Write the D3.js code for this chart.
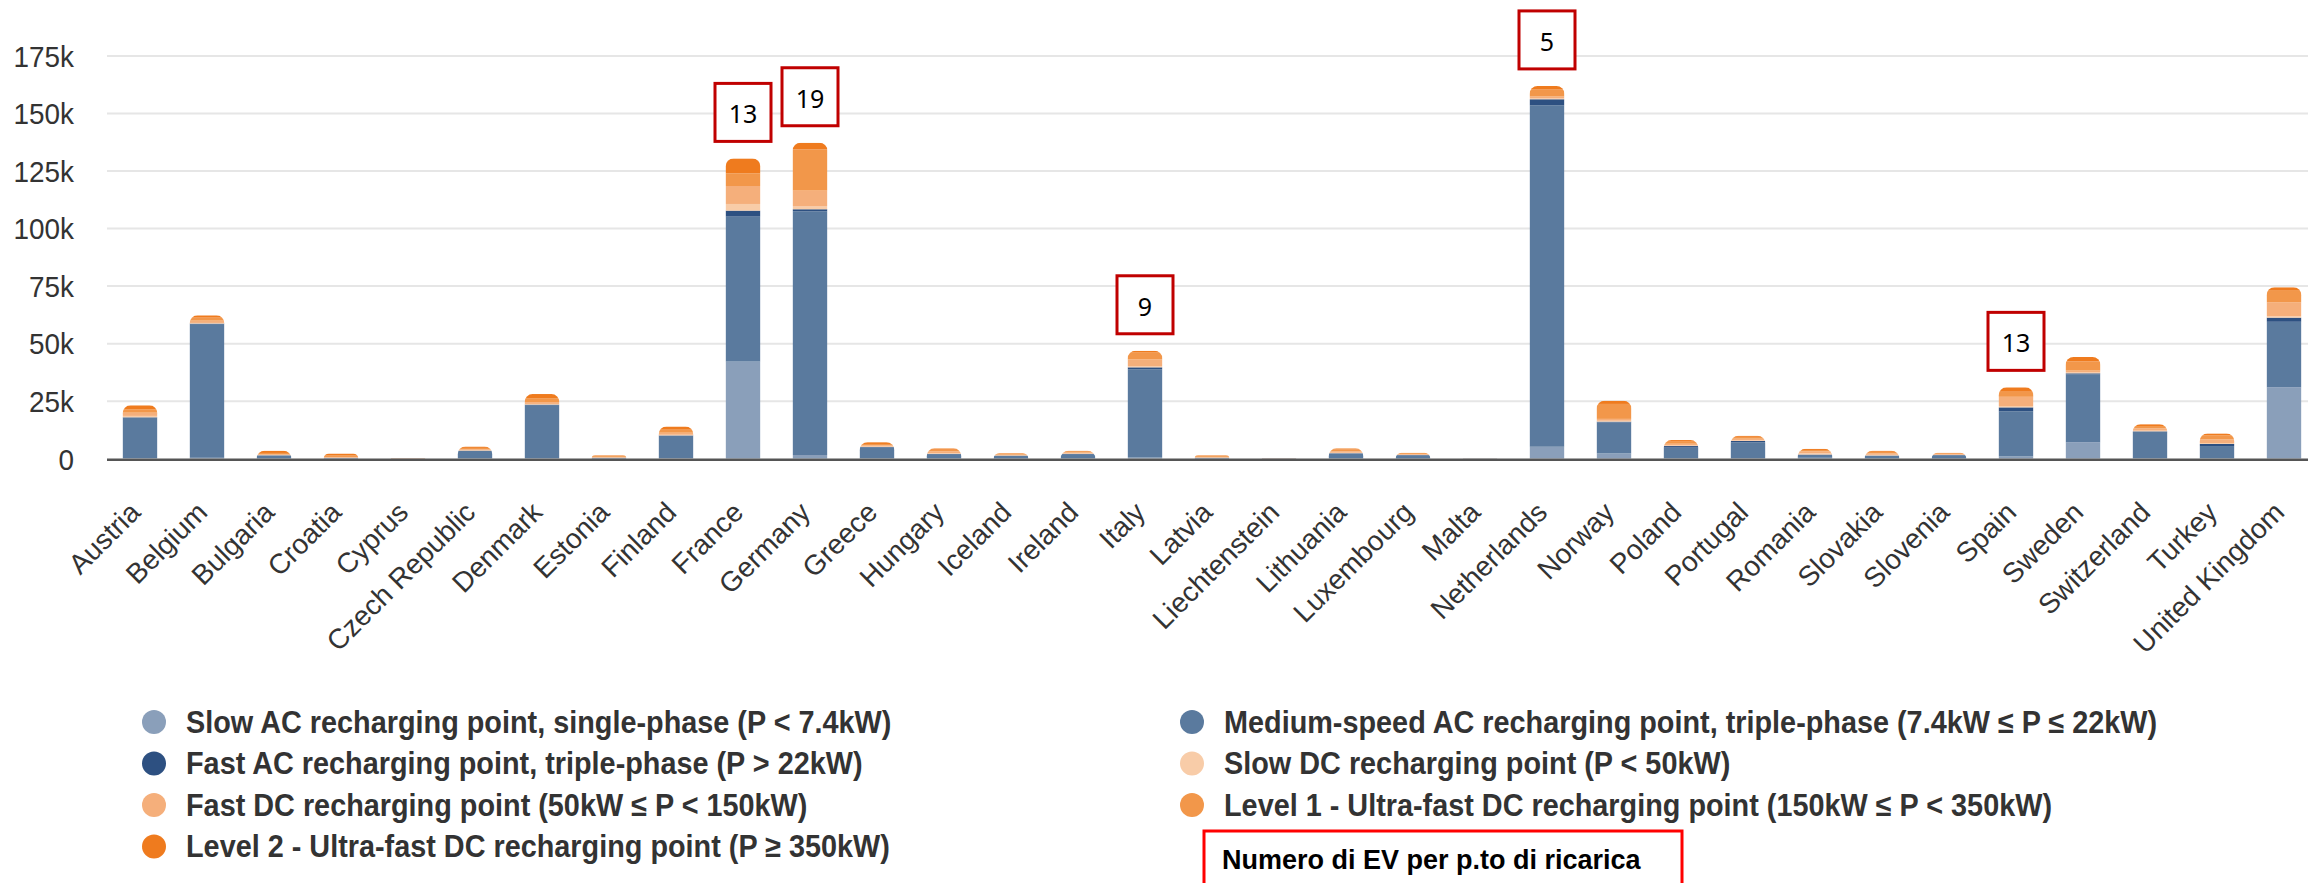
<!DOCTYPE html>
<html>
<head>
<meta charset="utf-8">
<script src="https://cdn.jsdelivr.net/npm/d3@7"></script>
<style>
  html, body { margin: 0; padding: 0; background: #ffffff; }
  svg { display: block; }
</style>
</head>
<body>
<svg id="chart" width="2308" height="883"></svg>
<script>
// ---------------- DATA ----------------
const countries = ["Austria","Belgium","Bulgaria","Croatia","Cyprus","Czech Republic","Denmark","Estonia","Finland","France","Germany","Greece","Hungary","Iceland","Ireland","Italy","Latvia","Liechtenstein","Lithuania","Luxembourg","Malta","Netherlands","Norway","Poland","Portugal","Romania","Slovakia","Slovenia","Spain","Sweden","Switzerland","Turkey","United Kingdom"];

const slowAC   = [300, 400, 100, 100, 0, 200, 300, 50, 300, 42200, 1600, 200, 200, 100, 200, 500, 50, 20, 200, 100, 20, 5200, 2300, 300, 300, 400, 200, 100, 1000, 7100, 300, 200, 31000];
const mediumAC = [17500, 58100, 1300, 200, 100, 3200, 23000, 300, 9600, 63000, 105900, 4800, 1800, 1200, 1800, 38300, 300, 100, 2100, 1400, 100, 148400, 13500, 4500, 6800, 1200, 1100, 1400, 19600, 29600, 11400, 5300, 28500];
const fastAC   = [200, 200, 100, 50, 0, 100, 200, 50, 200, 2600, 900, 100, 100, 50, 100, 900, 50, 20, 100, 100, 20, 2600, 300, 700, 600, 200, 100, 100, 1700, 400, 200, 900, 1800];
const slowDC   = [600, 300, 100, 100, 50, 200, 300, 100, 300, 2900, 1400, 200, 300, 100, 200, 500, 100, 20, 200, 100, 20, 400, 400, 300, 300, 600, 300, 100, 600, 400, 300, 400, 600];
const fastDC   = [1400, 1000, 300, 300, 50, 400, 800, 300, 900, 7800, 6700, 500, 800, 300, 400, 3000, 300, 30, 600, 300, 20, 800, 800, 700, 700, 800, 600, 300, 4000, 800, 1000, 1600, 6100];
const ultraL1  = [1500, 1300, 600, 600, 50, 600, 1700, 400, 1300, 5500, 17900, 600, 700, 300, 400, 2900, 400, 30, 800, 400, 20, 3000, 6500, 900, 800, 600, 700, 300, 2200, 4000, 1000, 1800, 5000];
const ultraL2  = [1700, 1000, 1000, 900, 50, 600, 1800, 300, 1400, 6500, 2900, 800, 600, 350, 400, 800, 300, 30, 500, 200, 20, 1600, 1400, 700, 500, 500, 500, 300, 1900, 1900, 800, 800, 1500];

const seriesNames = [
  "Slow AC recharging point, single-phase (P < 7.4kW)",
  "Medium-speed AC recharging point, triple-phase (7.4kW \u2264 P \u2264 22kW)",
  "Fast AC recharging point, triple-phase (P > 22kW)",
  "Slow DC recharging point (P < 50kW)",
  "Fast DC recharging point (50kW \u2264 P < 150kW)",
  "Level 1 - Ultra-fast DC recharging point (150kW \u2264 P < 350kW)",
  "Level 2 - Ultra-fast DC recharging point (P \u2265 350kW)"
];
const seriesColors = ["#8a9fba", "#5a7a9e", "#2d5081", "#f8cca8", "#f5af7b", "#f2974a", "#ef7b1e"];

const yTicks = [0, 25000, 50000, 75000, 100000, 125000, 150000, 175000];

// EV per charging point annotations
const annCountries = ["France", "Germany", "Italy", "Netherlands", "Spain"];
const annValues    = [13, 19, 9, 5, 13];

const noteText = "Numero di EV per p.to di ricarica";

// ---------------- CHART ----------------
const seriesData = [slowAC, mediumAC, fastAC, slowDC, fastDC, ultraL1, ultraL2];
const keys = seriesNames;
const table = countries.map((c, i) => {
  const row = { country: c };
  keys.forEach((k, j) => { row[k] = seriesData[j][i]; });
  return row;
});

const svg = d3.select("#chart");
const W = 2308;

const x = d3.scaleBand()
  .domain(countries)
  .range([106.5, 106.5 + 33 * 67])
  .paddingInner(0.48)
  .paddingOuter(0.24);

const y = d3.scaleLinear().domain([0, 175000]).range([458.7, 56]);

// grid
const grid = svg.append("g");
grid.selectAll("line")
  .data(yTicks.filter(d => d > 0))
  .join("line")
  .attr("x1", 107).attr("x2", W)
  .attr("y1", d => y(d)).attr("y2", d => y(d))
  .attr("stroke", "#e6e6e6").attr("stroke-width", 2);

// y axis labels via d3 axis
const yAxis = d3.axisLeft(y).tickValues(yTicks)
  .tickFormat(d => d === 0 ? "0" : (d / 1000) + "k")
  .tickSize(0).tickPadding(0);
const yg = svg.append("g").attr("transform", "translate(74,0)").call(yAxis);
yg.select(".domain").remove();
yg.selectAll("text")
  .attr("x", null).attr("dy", null)
  .attr("dominant-baseline", "central")
  .attr("transform", "scale(0.93,1)")
  .style("font-family", "'Liberation Sans', Arial, sans-serif")
  .style("font-size", "30px")
  .attr("fill", "#333333");

// stacked bars
const stack = d3.stack().keys(keys);
const stacked = stack(table);
const totals = table.map(r => d3.sum(keys, k => r[k]));

const defs = svg.append("defs");
const bw = x.bandwidth();
countries.forEach((c, i) => {
  const x0 = x(c), yTop = y(totals[i]), yB = y(0);
  const r = Math.min(8, (yB - yTop));
  const p = d3.path();
  p.moveTo(x0, yB);
  p.lineTo(x0, yTop + r);
  p.arcTo(x0, yTop, x0 + r, yTop, r);
  p.lineTo(x0 + bw - r, yTop);
  p.arcTo(x0 + bw, yTop, x0 + bw, yTop + r, r);
  p.lineTo(x0 + bw, yB);
  p.closePath();
  defs.append("clipPath").attr("id", "clip" + i).append("path").attr("d", p.toString());
});

const barsG = svg.append("g");
countries.forEach((c, i) => {
  const g = barsG.append("g").attr("clip-path", `url(#clip${i})`);
  stacked.forEach((s, j) => {
    const d = s[i];
    g.append("rect")
      .attr("x", x(c))
      .attr("width", bw)
      .attr("y", y(d[1]))
      .attr("height", Math.max(0, y(d[0]) - y(d[1])))
      .attr("fill", seriesColors[j]);
  });
});

// zero axis line
svg.append("line")
  .attr("x1", 107).attr("x2", W)
  .attr("y1", y(0) + 1).attr("y2", y(0) + 1)
  .attr("stroke", "#555555").attr("stroke-width", 2.5);

// x axis labels
const xAxis = d3.axisBottom(x).tickSize(0).tickPadding(0);
const xg = svg.append("g").call(xAxis);
xg.select(".domain").remove();
xg.selectAll(".tick").attr("transform", null);
xg.selectAll(".tick text")
  .attr("y", null).attr("dy", null)
  .attr("text-anchor", "end")
  .attr("transform", d => `translate(${x(d) + bw / 2 + 2},${514}) rotate(-45)`)
  .style("font-family", "'Liberation Sans', Arial, sans-serif")
  .style("font-size", "28px")
  .attr("fill", "#333333");

// annotation boxes
annCountries.forEach((c, k) => {
  const i = countries.indexOf(c);
  const cx = x(c) + bw / 2;
  const bottom = y(totals[i]) - 17;
  const bwid = 56, bh = 58;
  svg.append("rect")
    .attr("x", cx - bwid / 2).attr("y", bottom - bh)
    .attr("width", bwid).attr("height", bh)
    .attr("fill", "#ffffff").attr("stroke", "#c00000").attr("stroke-width", 3);
  svg.append("text")
    .attr("x", cx).attr("y", bottom - bh / 2 + 1)
    .attr("text-anchor", "middle").attr("dominant-baseline", "central")
    .style("font-family", "'Noto Sans', 'Open Sans', sans-serif")
    .style("font-size", "25px")
    .attr("fill", "#000")
    .text(annValues[k]);
});

// legend
const legend = svg.append("g");
const colX = [154, 1192];
const rowY0 = 722, rowStep = 41.5;
seriesNames.forEach((name, i) => {
  const col = i % 2, row = Math.floor(i / 2);
  const cy = rowY0 + row * rowStep;
  legend.append("circle")
    .attr("cx", colX[col]).attr("cy", cy).attr("r", 12)
    .attr("fill", seriesColors[i]);
  legend.append("text")
    .attr("transform", `translate(${colX[col] + 32},${cy}) scale(0.93,1)`)
    .attr("dominant-baseline", "central")
    .style("font-family", "'Liberation Sans', Arial, sans-serif")
    .style("font-size", "31px")
    .style("font-weight", "bold")
    .attr("fill", "#333333")
    .text(name);
});

// bottom note box
svg.append("rect")
  .attr("x", 1204).attr("y", 831)
  .attr("width", 478).attr("height", 70)
  .attr("fill", "#ffffff").attr("stroke", "#ff0000").attr("stroke-width", 3);
svg.append("text")
  .attr("x", 1222).attr("y", 860)
  .attr("dominant-baseline", "central")
  .style("font-family", "'Liberation Sans Narrow', 'Liberation Sans', Arial, sans-serif")
  .style("font-size", "27px")
  .style("font-weight", "bold")
  .attr("fill", "#000")
  .text(noteText);
</script>
</body>
</html>
